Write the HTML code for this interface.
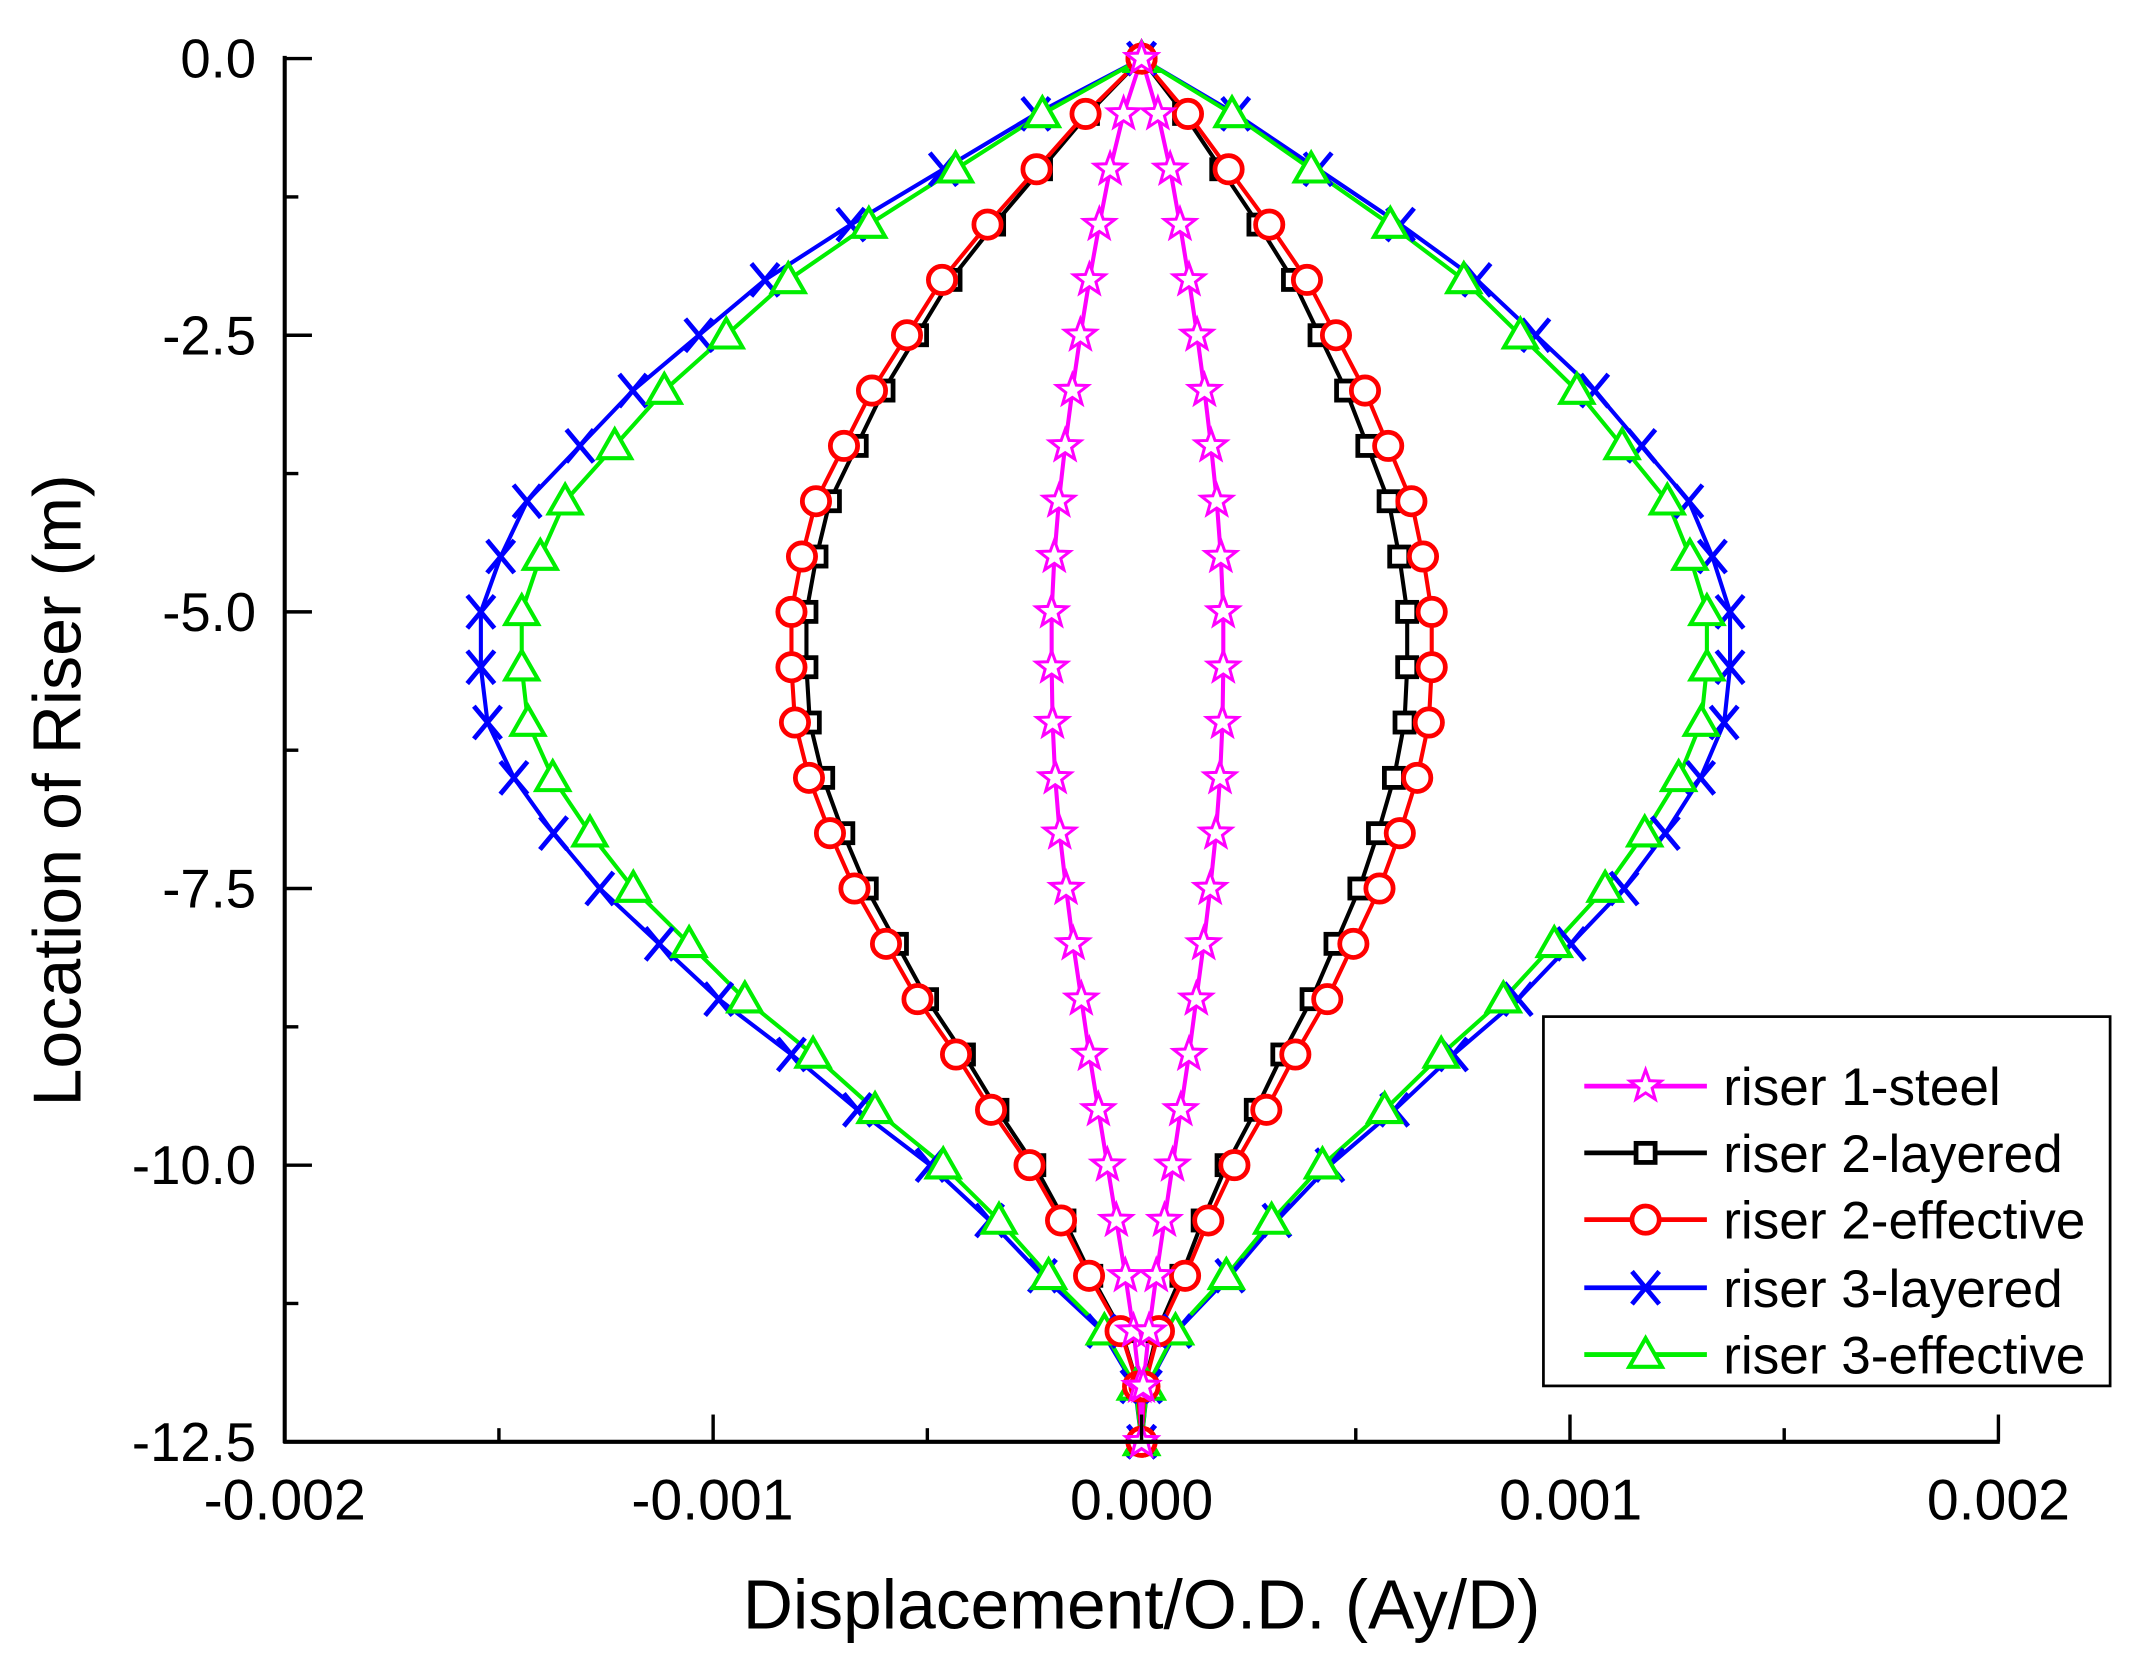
<!DOCTYPE html>
<html><head><meta charset="utf-8"><style>
html,body{margin:0;padding:0;background:#fff;}
svg{display:block;}
text{font-family:"Liberation Sans",Arial,sans-serif;fill:#000;}
</style></head><body>
<svg id="s" width="2136" height="1668" viewBox="0 0 1568 1224" preserveAspectRatio="none" xmlns="http://www.w3.org/2000/svg">
<rect width="1568" height="1224" fill="#fff"/>
<g id="plot"></g>
<g stroke="#000" stroke-width="3" fill="none">
<line x1="209" y1="41" x2="209" y2="1059"/>
<line x1="208" y1="1058" x2="1468" y2="1058"/>
</g>
<g id="ticks" stroke="#000" stroke-width="2.5"></g>
<g font-size="40" text-anchor="end">
<text x="188" y="57">0.0</text>
<text x="188" y="260">-2.5</text>
<text x="188" y="463">-5.0</text>
<text x="188" y="666">-7.5</text>
<text x="188" y="869">-10.0</text>
<text x="188" y="1072">-12.5</text>
</g>
<g font-size="42" text-anchor="middle">
<text x="209" y="1115">-0.002</text>
<text x="523" y="1115">-0.001</text>
<text x="838" y="1115">0.000</text>
<text x="1153" y="1115">0.001</text>
<text x="1467" y="1115">0.002</text>
</g>
<text x="838" y="1195" font-size="51" text-anchor="middle">Displacement/O.D. (Ay/D)</text>
<text transform="translate(59,580) rotate(-90)" font-size="50" text-anchor="middle">Location of Riser (m)</text>
<rect x="1133" y="746" width="416" height="271" fill="#fff" stroke="#000" stroke-width="2"/>
<g id="leg"></g>
<g font-size="39">
<text x="1265" y="811">riser 1-steel</text>
<text x="1265" y="860">riser 2-layered</text>
<text x="1265" y="909">riser 2-effective</text>
<text x="1265" y="959">riser 3-layered</text>
<text x="1265" y="1008">riser 3-effective</text>
</g>
</svg>
<script>
var NS="http://www.w3.org/2000/svg";
function el(p,t,a){var e=document.createElementNS(NS,t);for(var k in a)e.setAttribute(k,a[k]);p.appendChild(e);return e;}
var T=document.getElementById('ticks');
for(var i=0;i<=10;i++){var y=43+i*81.2*1.25;el(T,'line',{x1:209,y1:y,x2:209+(i%2?10:20),y2:y});}
for(var i=0;i<=8;i++){var x=209+i*157.25;el(T,'line',{x1:x,y1:1058,x2:x,y2:1058-(i%2?10:20)});}
var f=[0,0.16,0.30,0.44,0.57,0.67,0.77,0.85,0.93,0.97,1.0,1.0,0.99,0.95,0.89,0.82,0.73,0.64,0.53,0.43,0.32,0.23,0.15,0.06,0.01,0];
var fm=[0,0.20,0.35,0.47,0.58,0.68,0.77,0.85,0.92,0.97,1.0,1.0,0.99,0.96,0.91,0.84,0.76,0.67,0.58,0.48,0.38,0.28,0.18,0.09,0.02,0];
function Y(i){return 43+i*0.5*81.2;}
function marker(g,type,x,y,c){
 if(type=='star'){var p=[];for(var k=0;k<10;k++){var r=k%2?5:12,a=-Math.PI/2+k*Math.PI/5;p.push((x+r*Math.cos(a)).toFixed(1)+','+(y+r*Math.sin(a)).toFixed(1));}
  el(g,'polygon',{points:p.join(' '),fill:'#fff',stroke:c,'stroke-width':2.2});}
 else if(type=='sq')el(g,'rect',{x:x-7,y:y-7,width:14,height:14,fill:'#fff',stroke:c,'stroke-width':3.5});
 else if(type=='ci')el(g,'circle',{cx:x,cy:y,r:10,fill:'#fff',stroke:c,'stroke-width':3.5});
 else if(type=='x'){el(g,'path',{d:'M'+(x-10)+','+(y-12)+'L'+(x+10)+','+(y+12)+'M'+(x+10)+','+(y-12)+'L'+(x-10)+','+(y+12),stroke:c,'stroke-width':3.5,fill:'none'});}
 else if(type=='tr')el(g,'polygon',{points:x+','+(y-12)+' '+(x-12)+','+(y+9)+' '+(x+12)+','+(y+9),fill:'#fff',stroke:c,'stroke-width':3});
}
var P=document.getElementById('plot');
var S=[
 {c:'#0000ff',t:'x',L:485,R:432,f:f},
 {c:'#00ee00',t:'tr',L:455,R:415,f:f},
 {c:'#000',t:'sq',L:246,R:195,f:f},
 {c:'#ff0000',t:'ci',L:257,R:213,f:f},
 {c:'#ff00ff',t:'star',L:66,R:60,f:fm}
];
S.forEach(function(s){
 [-1,1].forEach(function(sg){
  var A=sg<0?s.L:s.R,pts=[];
  for(var i=0;i<26;i++)pts.push((838+sg*A*s.f[i]).toFixed(1)+','+Y(i).toFixed(1));
  el(P,'polyline',{points:pts.join(' '),fill:'none',stroke:s.c,'stroke-width':3});
 });
});
S.forEach(function(s){
 [-1,1].forEach(function(sg){
  var A=sg<0?s.L:s.R;
  for(var i=0;i<26;i++)marker(P,s.t,838+sg*A*s.f[i],Y(i),s.c);
 });
});
var G=document.getElementById('leg');
var LS=[['#ff00ff','star',797],['#000','sq',846],['#ff0000','ci',895],['#0000ff','x',945],['#00ee00','tr',994]];
LS.forEach(function(l){el(G,'line',{x1:1163,y1:l[2],x2:1253,y2:l[2],stroke:l[0],'stroke-width':3.5});marker(G,l[1],1208,l[2],l[0]);});
</script>
</body></html>
